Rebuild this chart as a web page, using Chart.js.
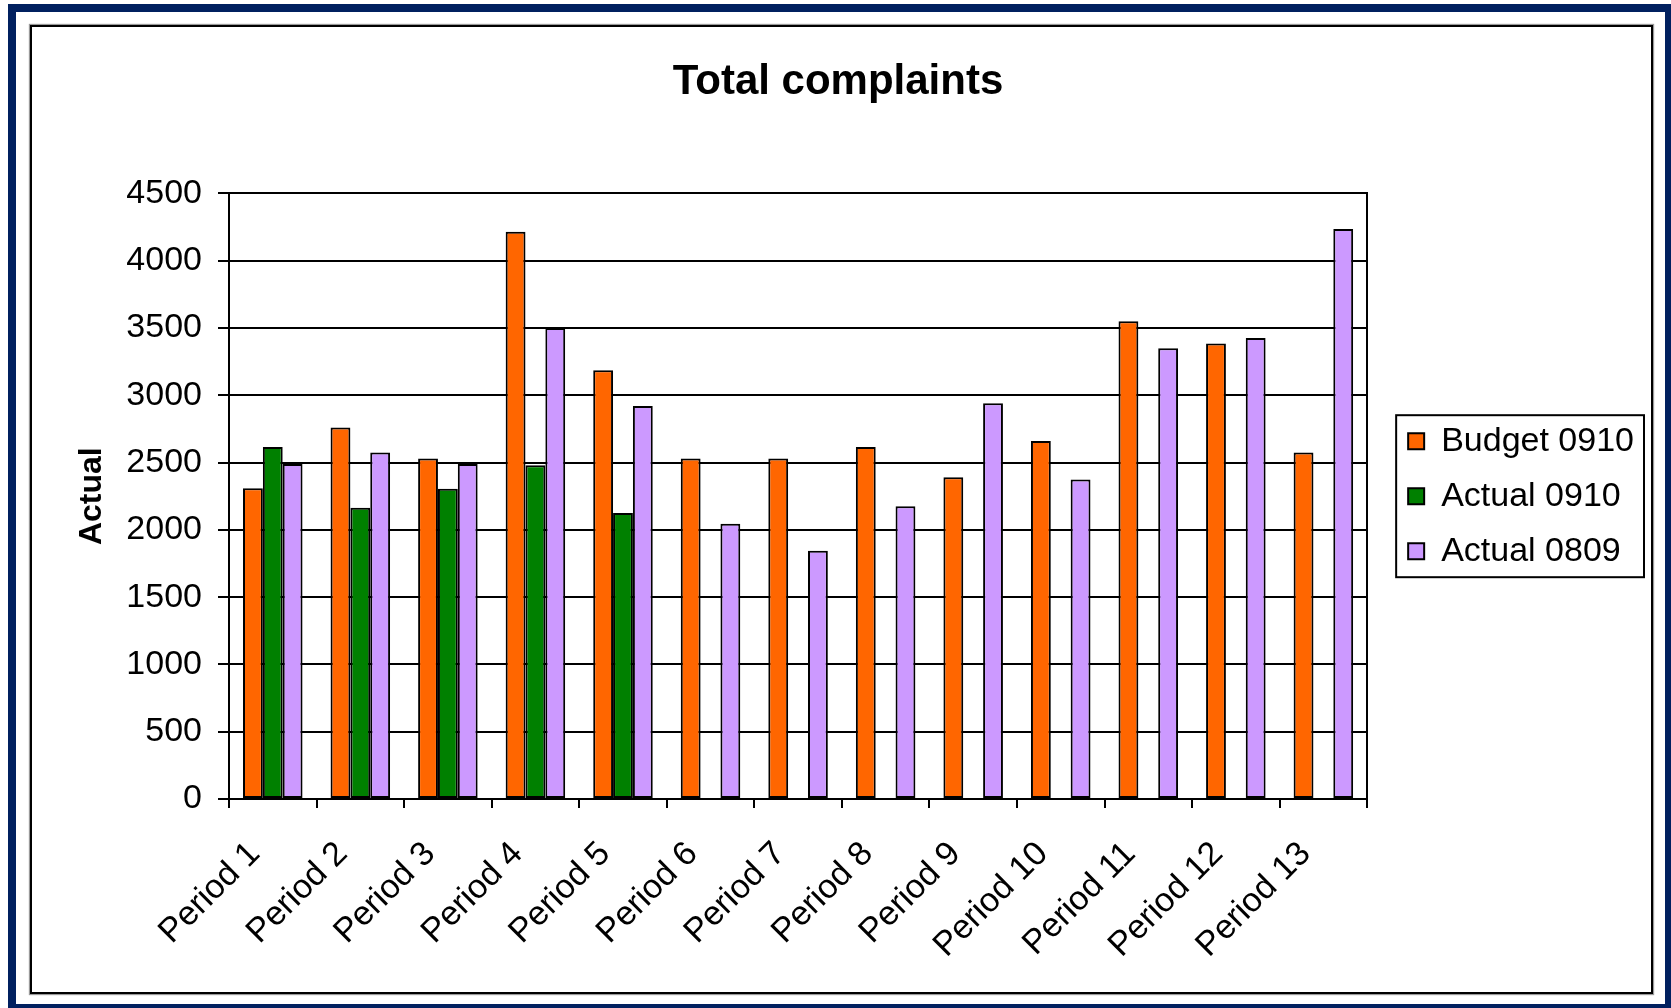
<!DOCTYPE html>
<html>
<head>
<meta charset="utf-8">
<title>Total complaints</title>
<script src="https://cdn.jsdelivr.net/npm/chart.js@4.4.1/dist/chart.umd.min.js"></script>
<style>
  html, body { margin: 0; padding: 0; background: #fff; }
  body { width: 1671px; height: 1008px; position: relative; overflow: hidden; }
  #frame {
    position: absolute; left: 8px; top: 4px; width: 1663px; height: 1004px;
    box-sizing: border-box;
    border-style: solid; border-color: #00205f;
    border-width: 8px 6px 4px 8px;
  }
  #box {
    position: absolute; left: 30px; top: 25px; width: 1619px; height: 965px;
    border: 2px solid #000;
    box-shadow: 0 0 1px 1px #999;
    background: #fff;
  }
  canvas { display: block; }
</style>
</head>
<body>
<div id="frame"></div>
<div id="box"><canvas id="complaintsChart" width="1619" height="965"></canvas></div>

<script>
// chart data
const periods = ['Period 1', 'Period 2', 'Period 3', 'Period 4', 'Period 5', 'Period 6', 'Period 7',
                 'Period 8', 'Period 9', 'Period 10', 'Period 11', 'Period 12', 'Period 13'];
const budget0910 = [2310, 2760, 2530, 4215, 3185, 2530, 2530, 2615, 2390, 2660, 3550, 3385, 2575];
const actual0910 = [2615, 2165, 2305, 2480, 2125, null, null, null, null, null, null, null, null];
const actual0809 = [2490, 2575, 2490, 3500, 2920, 2045, 1845, 2175, 2940, 2375, 3350, 3425, 4235];
const yTicks = [0, 500, 1000, 1500, 2000, 2500, 3000, 3500, 4000, 4500];

const FONT = 'Liberation Sans, Arial, sans-serif';

// draws the black box round the legend, like Excel does
const legendBorder = {
  id: 'legendBorder',
  afterDraw(chart) {
    const boxes = chart.legend && chart.legend.legendHitBoxes;
    if (!boxes || !boxes.length) return;
    const left = Math.min(...boxes.map(b => b.left)) - 12;
    const right = Math.max(...boxes.map(b => b.left + b.width)) + 10;
    const top = boxes[0].top - 9;
    const last = boxes[boxes.length - 1];
    const bottom = last.top + last.height + 9;
    const ctx = chart.ctx;
    ctx.save();
    ctx.strokeStyle = '#000';
    ctx.lineWidth = 2;
    ctx.strokeRect(left, top, right - left, bottom - top);
    ctx.restore();
  }
};

function barSet(label, data, color) {
  return {
    label: label,
    data: data,
    backgroundColor: color,
    borderColor: '#000',
    borderWidth: 2,
    borderSkipped: false,
    categoryPercentage: 0.68,
    barPercentage: 1.0
  };
}

new Chart(document.getElementById('complaintsChart'), {
  type: 'bar',
  data: {
    labels: periods,
    datasets: [
      barSet('Budget 0910', budget0910, '#ff6600'),
      barSet('Actual 0910', actual0910, '#008000'),
      barSet('Actual 0809', actual0809, '#cc99ff')
    ]
  },
  options: {
    responsive: false,
    animation: false,
    devicePixelRatio: 1,
    layout: { padding: { left: 0, right: 7, top: 0, bottom: 0 } },
    plugins: {
      title: {
        display: true,
        text: 'Total complaints',
        color: '#000',
        font: { family: FONT, size: 42, weight: 'bold' },
        padding: { top: 30, bottom: 86 }
      },
      legend: {
        position: 'right',
        fullSize: false,
        labels: {
          color: '#000',
          font: { family: FONT, size: 34 },
          boxWidth: 16,
          boxHeight: 16,
          padding: 21
        }
      },
      tooltip: { enabled: false }
    },
    scales: {
      x: {
        grid: {
          display: true,
          drawOnChartArea: false,
          drawTicks: true,
          tickLength: 9,
          color: '#000',
          lineWidth: 2,
          offset: true
        },
        border: { display: true, color: '#000', width: 2 },
        ticks: {
          color: '#000',
          font: { family: FONT, size: 34 },
          minRotation: 45,
          maxRotation: 45,
          autoSkip: false,
          padding: 26,
          labelOffset: -18
        },
        afterFit(scale) { scale.height = 193; }
      },
      y: {
        min: 0,
        max: 4500,
        afterBuildTicks(scale) { scale.ticks = yTicks.map(v => ({ value: v })); },
        grid: {
          color: '#000',
          lineWidth: 2,
          drawTicks: true,
          tickLength: 11
        },
        border: { display: true, color: '#000', width: 2 },
        ticks: {
          color: '#000',
          font: { family: FONT, size: 34 },
          padding: 16,
          callback: v => String(v)
        },
        title: {
          display: true,
          text: 'Actual',
          color: '#000',
          font: { family: FONT, size: 32, weight: 'bold' },
          padding: { top: 41, bottom: 0 }
        },
        afterFit(scale) { scale.width = 197; }
      },
      // right-hand frame line of the plot area
      yRight: {
        position: 'right',
        min: 0,
        max: 1,
        grid: { display: false },
        ticks: { display: false },
        border: { display: true, color: '#000', width: 2 },
        afterFit(scale) { scale.width = 20; }
      }
    }
  },
  plugins: [legendBorder]
});
</script>
</body>
</html>
